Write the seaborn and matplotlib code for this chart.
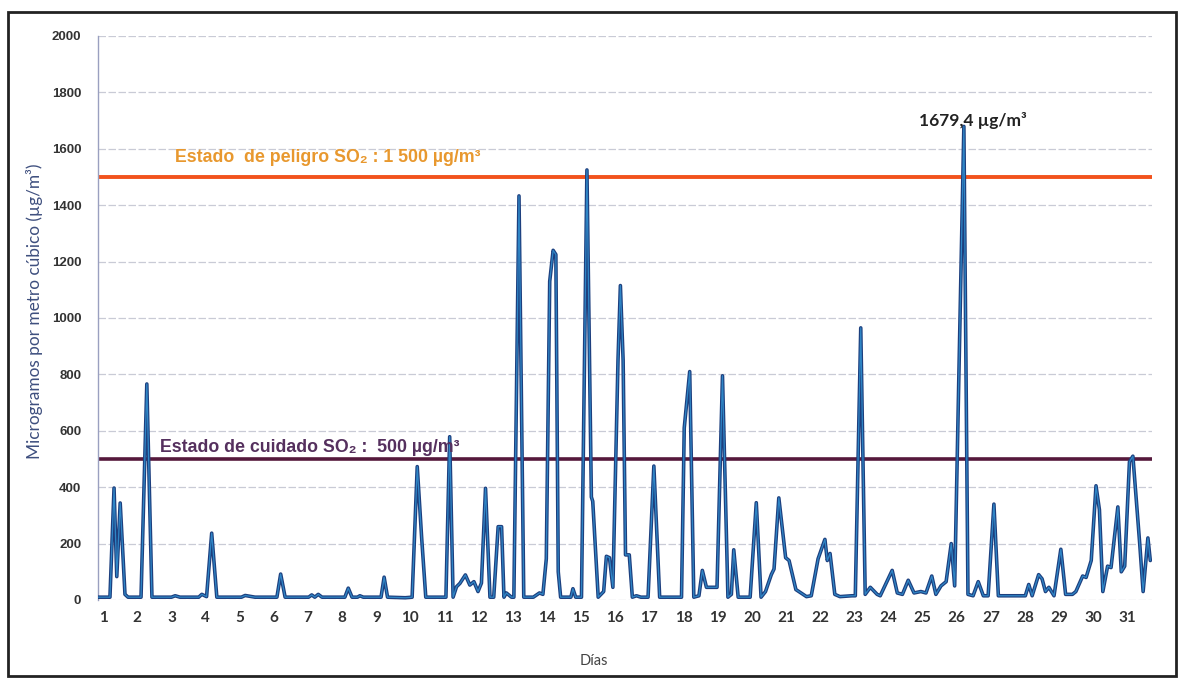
import matplotlib
matplotlib.use("Agg")
import matplotlib.pyplot as plt
import seaborn as sns
import pandas as pd
from matplotlib.patches import Rectangle

# ---------------- data ----------------
days = [0.85, 1.20, 1.32, 1.40, 1.50, 1.64, 1.73,
        2.11, 2.28, 2.43,
        3.00, 3.11, 3.25,
        3.80, 3.89, 4.03, 4.18, 4.33,
        5.05, 5.16, 5.45,
        6.09, 6.20, 6.33,
        7.02, 7.11, 7.20, 7.30, 7.41,
        8.08, 8.18, 8.29,
        8.45, 8.52, 8.62,
        9.14, 9.23, 9.33,
        9.85, 10.05, 10.20, 10.33, 10.45,
        11.04, 11.15, 11.25,
        11.35, 11.45, 11.61, 11.74, 11.86, 11.98, 12.08,
        12.20, 12.33, 12.44, 12.57, 12.67, 12.74, 12.81, 12.96,
        13.03, 13.18, 13.32, 13.60, 13.78, 13.88,
        13.98, 14.08, 14.18, 14.26, 14.33, 14.40, 14.70, 14.76, 14.84, 15.01,
        15.17, 15.30, 15.34, 15.50, 15.66, 15.74, 15.83, 15.93,
        16.08, 16.15, 16.23, 16.30, 16.41, 16.50, 16.62, 16.75,
        16.96, 17.13, 17.30, 17.94,
        18.02, 18.18, 18.30, 18.45, 18.55, 18.67, 18.86, 18.98,
        19.14, 19.30, 19.40, 19.47, 19.60, 19.95,
        20.13, 20.27, 20.40, 20.57, 20.65, 20.79, 20.99, 21.09, 21.29, 21.60, 21.74,
        21.94, 22.14, 22.21, 22.29, 22.43, 22.58, 22.93,
        23.03, 23.19, 23.32, 23.47, 23.67, 23.76,
        24.11, 24.26, 24.41, 24.58, 24.75, 24.95, 25.10, 25.27, 25.39, 25.54, 25.69, 25.84, 25.94,
        26.21, 26.33, 26.48, 26.63, 26.78, 26.92,
        27.09, 27.22, 28.01, 28.11, 28.21, 28.40, 28.50, 28.60, 28.70, 28.85,
        29.05, 29.19, 29.39, 29.49, 29.69, 29.79, 29.94, 30.08, 30.18, 30.28,
        30.42, 30.52, 30.72, 30.82, 30.92, 31.06, 31.16, 31.36, 31.46, 31.60, 31.67]

so2 = [10, 10, 397, 83, 344, 20, 10,
       10, 766, 10,
       10, 15, 10,
       10, 20, 12, 237, 10,
       10, 16, 10,
       10, 92, 10,
       10, 18, 10, 20, 10,
       10, 42, 10,
       10, 15, 10,
       10, 81, 10,
       8, 10, 473, 219, 10,
       10, 579, 10,
       47, 59, 89, 53, 65, 30, 60,
       396, 10, 10, 260, 260, 10, 25, 10,
       10, 1433, 10, 10, 25, 20,
       146, 1130, 1240, 1225, 100, 10, 10, 40, 10, 10,
       1525, 365, 350, 10, 30, 155, 150, 45,
       850, 1115, 850, 160, 160, 10, 15, 10,
       10, 475, 10, 10,
       610, 810, 10, 15, 105, 45, 45, 45,
       795, 10, 20, 178, 10, 10,
       345, 10, 30, 90, 110, 362, 150, 140, 37, 12, 15,
       146, 215, 140, 165, 20, 12, 15,
       15, 965, 20, 45, 20, 15,
       105, 25, 20, 70, 25, 30, 25, 85, 20, 50, 65, 200, 50,
       1679.4, 20, 15, 65, 15, 15,
       340, 15, 15, 55, 15, 90, 75, 30, 45, 15,
       180, 20, 20, 30, 85, 80, 140, 405, 320, 30,
       120, 115, 330, 100, 120, 490, 510, 200, 30, 220, 140]

day_ticks = list(range(1, 32))
y_ticks = list(range(0, 2001, 200))

peligro_level = 1500
cuidado_level = 500
peligro_text = "Estado  de peligro SO\u2082 : 1 500 \u00b5g/m\u00b3"
cuidado_text = "Estado de cuidado SO\u2082 :  500 \u00b5g/m\u00b3"
max_text = "1679,4 \u00b5g/m\u00b3"

df = pd.DataFrame({"dia": days, "so2": so2})

# ---------------- figure ----------------
sns.set_style("white")
plt.rcParams["font.family"] = ["Liberation Sans", "DejaVu Sans"]

W, H = 1185, 681
fig = plt.figure(figsize=(W / 100, H / 100), dpi=100)
ax = fig.add_axes([98 / W, 1 - 600 / H, 1054 / W, 564 / H])

# horizontal grid
for v in y_ticks:
    ax.axhline(v, color="#c9cbd6", lw=0.9, ls=(0, (6, 2)), zorder=0)

# main series: dark outline with lighter core
sns.lineplot(data=df, x="dia", y="so2", ax=ax, sort=False, estimator=None,
             color="#1d3f7e", lw=2.6, zorder=3)
sns.lineplot(data=df, x="dia", y="so2", ax=ax, sort=False, estimator=None,
             color="#2f86c6", lw=0.9, zorder=4)

# thresholds
ax.axhline(peligro_level, color="#f2521c", lw=2.8, zorder=2)
ax.axhline(cuidado_level, color="#55193c", lw=2.6, zorder=2)

ax.text(3.1, 1568, peligro_text, color="#e8982e", fontsize=12.8,
        fontweight="bold", va="center", ha="left",
        family=["Liberation Sans", "DejaVu Sans"], zorder=5)
ax.text(2.67, 540, cuidado_text, color="#55305e", fontsize=12.8,
        fontweight="bold", va="center", ha="left",
        family=["Liberation Sans", "DejaVu Sans"], zorder=5)
ax.text(26.48, 1702, max_text, color="#222222", fontsize=12.5,
        fontweight="bold", va="center", ha="center",
        family=["Lato", "DejaVu Sans"], zorder=5)

ax.set_xlim(0.85, 31.72)
ax.set_ylim(0, 2000)
ax.set_xticks(day_ticks)
ax.set_yticks(y_ticks)
ax.set_xticklabels([str(d) for d in day_ticks], fontsize=11,
                   fontweight="bold", color="#333333", family=["Lato", "DejaVu Sans"])
ax.set_yticklabels([str(v) for v in y_ticks], fontsize=9.5,
                   fontweight="bold", color="#333333")
ax.tick_params(axis="both", length=0)
ax.tick_params(axis="y", pad=12)
ax.tick_params(axis="x", pad=8)

ax.set_ylabel("Microgramos por metro c\u00fabico (\u00b5g/m\u00b3)", fontsize=12.4,
              color="#3e4f7e", family=["Lato", "DejaVu Sans"])
ax.yaxis.set_label_coords(-0.052, 0.512)
ax.set_xlabel("D\u00edas", fontsize=10.5, color="#444444",
              family=["Lato", "DejaVu Sans"])
ax.xaxis.set_label_coords(0.47, -0.095)

for s in ["top", "right", "bottom"]:
    ax.spines[s].set_visible(False)
ax.spines["left"].set_color("#9aa0c0")
ax.spines["left"].set_linewidth(1.0)

# outer frame of the scanned figure
fig.patches.append(Rectangle((8 / W, 1 - 676 / H), 1168 / W, 664 / H,
                             transform=fig.transFigure, fill=False,
                             lw=2.0, ec="#222222"))

fig.savefig("out.png", dpi=100, facecolor="white")
